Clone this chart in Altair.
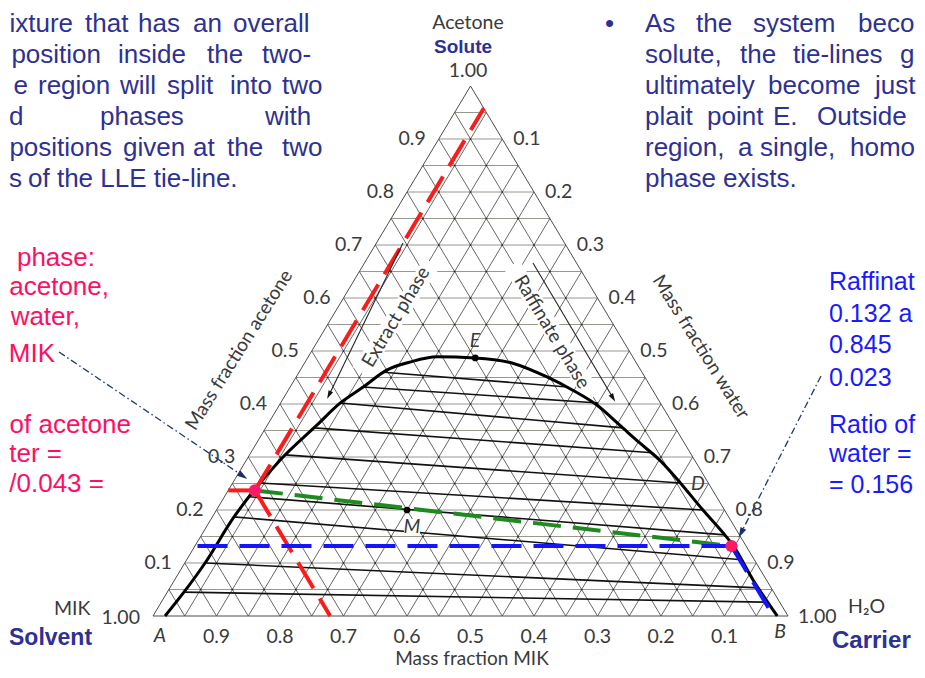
import altair as alt
import pandas as pd

# ------------------------------------------------------------------ data
# Binodal (solubility) curve, mass fractions
binodal_acetone = [0.000, 0.043, 0.100, 0.185, 0.240, 0.294, 0.360, 0.402, 0.432, 0.464,
                   0.479, 0.489, 0.487, 0.477, 0.451, 0.426, 0.398, 0.360, 0.326, 0.294,
                   0.251, 0.200, 0.158, 0.134, 0.068, 0.000]
binodal_water = [0.019, 0.026, 0.032, 0.034, 0.041, 0.053, 0.078, 0.094, 0.115, 0.136,
                 0.165, 0.203, 0.264, 0.328, 0.395, 0.448, 0.500, 0.555, 0.604, 0.651,
                 0.705, 0.766, 0.818, 0.846, 0.911, 0.983]

# Tie-lines: extract (MIK-rich) end and raffinate (water-rich) end
tie_extract_acetone = [0.460, 0.432, 0.402, 0.355, 0.304, 0.251, 0.225, 0.187, 0.100, 0.045]
tie_extract_water = [0.133, 0.115, 0.094, 0.076, 0.056, 0.043, 0.039, 0.034, 0.032, 0.026]
tie_raffinate_acetone = [0.432, 0.402, 0.355, 0.308, 0.251, 0.200, 0.153, 0.106, 0.053, 0.026]
tie_raffinate_water = [0.437, 0.500, 0.563, 0.632, 0.705, 0.766, 0.824, 0.874, 0.927, 0.955]

extract_acetone, extract_water = 0.237, 0.042
raffinate_acetone, raffinate_water = 0.132, 0.845
plait_acetone, plait_water = 0.487, 0.264
mixture_acetone, mixture_water = 0.200, 0.300

grid_levels = [0.00, 0.05, 0.10, 0.15, 0.20, 0.25, 0.30, 0.35, 0.40, 0.45, 0.50,
               0.55, 0.60, 0.65, 0.70, 0.75, 0.80, 0.85, 0.90, 0.95, 1.00]
tick_values = [0.1, 0.2, 0.3, 0.4, 0.5, 0.6, 0.7, 0.8, 0.9]
tick_labels = ["0.1", "0.2", "0.3", "0.4", "0.5", "0.6", "0.7", "0.8", "0.9"]
corner_label = "1.00"

# ------------------------------------------------------------------ layout
W, H = 909, 662
MARGIN = 8
BASE_LEFT_PX, BASE_Y_PX = 153, 616     # vertex A on the page
SIDE_PX, HEIGHT_PX = 635, 530          # triangle base and height in px
X0 = BASE_LEFT_PX - MARGIN
Y0 = BASE_Y_PX - MARGIN


def tern(a, w):
    return (w + a / 2.0, a)


def at_page(px, py):
    return ((px - MARGIN - X0) / SIDE_PX, (Y0 - (py - MARGIN)) / HEIGHT_PX)


def nudge(pt, dx, dy):
    return (pt[0] + dx / SIDE_PX, pt[1] - dy / HEIGHT_PX)


XS = alt.Scale(domain=[-X0 / SIDE_PX, (W - X0) / SIDE_PX], nice=False, zero=False)
YS = alt.Scale(domain=[(Y0 - H) / HEIGHT_PX, Y0 / HEIGHT_PX], nice=False, zero=False)
ENC_X = alt.X("X:Q", scale=XS, axis=None)
ENC_Y = alt.Y("Y:Q", scale=YS, axis=None)


def seg_df(segs):
    rows = []
    for i, pts in enumerate(segs):
        for k, (X, Y) in enumerate(pts):
            rows.append({"seg": i, "k": k, "X": X, "Y": Y})
    return pd.DataFrame(rows)


def lines(segs, **mk):
    return alt.Chart(seg_df(segs)).mark_line(**mk).encode(
        x=ENC_X, y=ENC_Y, detail="seg:N", order="k:Q")


def points(pts, **mk):
    df = pd.DataFrame([{"X": p[0], "Y": p[1]} for p in pts])
    return alt.Chart(df).mark_point(**mk).encode(x=ENC_X, y=ENC_Y)


def text_layer(rows, **mk):
    df = pd.DataFrame([{"t": t, "X": p[0], "Y": p[1]} for t, p in rows])
    opts = dict(baseline="alphabetic")
    opts.update(mk)
    return alt.Chart(df).mark_text(**opts).encode(x=ENC_X, y=ENC_Y, text="t:N")


ARROW = "M0,-1L0.6,1L-0.6,1Z"


def heads(rows, color, size):
    df = pd.DataFrame([{"X": p[0], "Y": p[1], "ang": a} for p, a in rows])
    return alt.Chart(df).mark_point(shape=ARROW, filled=True, size=size, color=color,
                                    opacity=1, strokeWidth=0).encode(
        x=ENC_X, y=ENC_Y, angle=alt.Angle("ang:Q", scale=None))


layers = []

# ---- grid
inner = [l for l in grid_levels if 0 < l < 1]
h_segs = [[tern(l, 0), tern(l, 1 - l)] for l in inner]
w_segs = [[tern(0, l), tern(1 - l, l)] for l in inner]
m_segs = [[tern(0, 1 - l), tern(1 - l, 0)] for l in inner]
layers.append(lines(h_segs, color="#8f8b7e", strokeWidth=0.9))
layers.append(lines(w_segs + m_segs, color="#4d4d4d", strokeWidth=0.85))
layers.append(lines([[tern(0, 0), tern(0, 1), tern(1, 0), tern(0, 0)]], color="#4d4d4d", strokeWidth=1.0))
dots = [tern(a, w) for a in grid_levels for w in grid_levels if a > 0 and w > 0 and a + w < 0.999]
layers.append(points(dots, filled=True, size=3, color="#222222", opacity=1, strokeWidth=0))

# ---- white knock-outs behind phase labels
layers.append(lines([[at_page(360, 372), at_page(432, 263)], [at_page(512, 265), at_page(593, 397)]],
                    color="white", strokeWidth=18))

# ---- tie-lines and binodal
tie_segs = [[tern(ea, ew), tern(ra, rw)] for ea, ew, ra, rw in
            zip(tie_extract_acetone, tie_extract_water, tie_raffinate_acetone, tie_raffinate_water)]
layers.append(lines(tie_segs, color="#111111", strokeWidth=1.6))
bdf = pd.DataFrame([{"X": tern(a, w)[0], "Y": a} for a, w in zip(binodal_acetone, binodal_water)])
layers.append(alt.Chart(bdf).mark_line(color="#000000", strokeWidth=3, interpolate="monotone")
              .encode(x=ENC_X, y=ENC_Y))

# knock-out behind M
layers.append(points([at_page(412, 527)], shape="square", filled=True, size=260, color="white",
                     opacity=1, strokeWidth=0))

# ---- construction lines
E_pt = tern(extract_acetone, extract_water)
R_pt = tern(raffinate_acetone, raffinate_water)
layers.append(lines([[E_pt, tern(extract_acetone, 0)],
                     [E_pt, tern(1 - extract_water, extract_water)],
                     [E_pt, tern(0, extract_acetone + extract_water)]],
                    color="#ff1a1a", strokeWidth=4, strokeDash=[30, 12]))
layers.append(lines([[E_pt, R_pt]], color="#1f8a1f", strokeWidth=4, strokeDash=[28, 12]))
layers.append(lines([[R_pt, tern(raffinate_acetone, 0)],
                     [R_pt, tern(0, raffinate_acetone + raffinate_water)]],
                    color="#1414ff", strokeWidth=4, strokeDash=[30, 12]))

# ---- arrows
layers.append(lines([[at_page(59, 352), at_page(243, 476)], [at_page(821, 376), at_page(741, 533)]],
                    color="#203a78", strokeWidth=1.3, strokeDash=[7, 3, 1.5, 3]))
layers.append(heads([(at_page(243, 476), 124), (at_page(741, 533), 207)], "#1a2f6e", 110))
layers.append(lines([[at_page(403, 243), at_page(329, 395)], [at_page(533, 263), at_page(613, 398)]],
                    color="#222222", strokeWidth=1.1))
layers.append(heads([(at_page(329, 395), 206), (at_page(613, 398), 149)], "#111111", 70))

# ---- special points
layers.append(points([tern(plait_acetone, plait_water), tern(mixture_acetone, mixture_water)],
                     filled=True, size=45, color="#000000", opacity=1, strokeWidth=0))
layers.append(points([E_pt, R_pt], filled=True, size=150, color="#ff1a66", opacity=1, strokeWidth=0))

# ---- diagram text
GRAY = "#3a3a3a"
DF = "Lato"
FS = 19.5
left_ticks = [(lab, nudge(tern(v, 0), -13, 0)) for v, lab in zip(tick_values, tick_labels)]
right_ticks = [(lab, nudge(tern(1 - v, v), 11, 0)) for v, lab in zip(tick_values, tick_labels)]
bottom_ticks = [(lab, nudge(tern(0, 1 - v), 0, 21)) for v, lab in zip(tick_values, tick_labels)]
layers.append(text_layer(left_ticks, align="right", baseline="middle", font=DF, fontSize=FS, color=GRAY))
layers.append(text_layer(right_ticks, align="left", baseline="middle", font=DF, fontSize=FS, color=GRAY))
layers.append(text_layer(bottom_ticks, align="center", baseline="middle", font=DF, fontSize=FS, color=GRAY))
layers.append(text_layer([(corner_label, at_page(140, 624))], align="right", font=DF, fontSize=FS, color=GRAY))
layers.append(text_layer([(corner_label, at_page(798, 623)), ("MIK", at_page(54, 615)),
                          ("H\u2082O", at_page(848, 613))], align="left", font=DF, fontSize=FS, color=GRAY))
layers.append(text_layer([(corner_label, at_page(468, 77)), ("Acetone", at_page(468, 29))],
                         align="center", font=DF, fontSize=FS, color=GRAY))
layers.append(text_layer([("Mass fraction MIK", at_page(472, 665))],
                         align="center", font=DF, fontSize=19, color=GRAY))
layers.append(text_layer([("A", at_page(160, 642)), ("B", at_page(780, 638)), ("D", at_page(698, 490)),
                          ("E", at_page(475, 347)), ("M", at_page(412, 533))],
                         align="center", font=DF, fontSize=FS, fontStyle="italic", color=GRAY))
layers.append(text_layer([("Mass fraction acetone", at_page(239, 350))], align="center", baseline="middle",
                         font=DF, fontSize=19, color=GRAY, angle=302))
layers.append(text_layer([("Mass fraction water", at_page(701, 347))], align="center", baseline="middle",
                         font=DF, fontSize=19, color=GRAY, angle=58))
layers.append(text_layer([("Extract phase", at_page(396, 317))], align="center", baseline="middle",
                         font=DF, fontSize=19, color=GRAY, angle=301))
layers.append(text_layer([("Raffinate phase", at_page(552, 332))], align="center", baseline="middle",
                         font=DF, fontSize=19, color=GRAY, angle=59))

# ---- slide text (the slide is cropped: only the visible parts of the words are kept)
PARA = "#2e3192"
PINK = "#ff0f63"
BLUE = "#1a1aff"
SF = "Liberation Sans"
L1, L2, L3, L4, L5, L6 = 32, 63, 94, 125, 156, 187
para_right = [("ixture", 73, L1), ("position", 101, L2), ("e", 28, L3), ("d", 23.5, L4),
              ("positions", 112, L5), ("s", 22, L6)]
para_left = [("that", 85, L1), ("has", 138, L1), ("an", 193, L1), ("overall", 233, L1),
             ("inside", 118, L2), ("the", 207, L2), ("two-", 262, L2),
             ("region", 38, L3), ("will", 120, L3), ("split", 167, L3), ("into", 230, L3), ("two", 282, L3),
             ("phases", 100, L4), ("with", 265, L4),
             ("given", 123, L5), ("at", 193, L5), ("the", 227, L5), ("two", 282, L5),
             ("of the LLE tie-line.", 28, L6),
             ("\u2022", 605, L1),
             ("As", 645, L1), ("the", 696, L1), ("system", 753, L1), ("beco", 858, L1),
             ("solute,", 645, L2), ("the", 740, L2), ("tie-lines", 793, L2), ("g", 900, L2),
             ("ultimately", 645, L3), ("become", 768, L3), ("just", 875, L3),
             ("plait", 645, L4), ("point", 707, L4), ("E.", 773, L4), ("Outside", 817, L4),
             ("region,", 645, L5), ("a", 738, L5), ("single,", 760, L5), ("homo", 850, L5),
             ("phase exists.", 645, L6)]
layers.append(text_layer([(t, at_page(x, y)) for t, x, y in para_right], align="right", font=SF,
                         fontSize=26, color=PARA))
layers.append(text_layer([(t, at_page(x, y)) for t, x, y in para_left], align="left", font=SF,
                         fontSize=26, color=PARA))
pink_rows = [("phase:", 95, 266), ("acetone,", 109, 295), ("water,", 80, 325),
             ("MIK", 55, 362), ("of acetone", 131, 433), ("ter =", 62, 462),
             ("/0.043 =", 104, 492)]
layers.append(text_layer([(t, at_page(x, y)) for t, x, y in pink_rows], align="right", font=SF,
                         fontSize=26, color=PINK))
raff_rows = [("Raffinat", 829, 290), ("0.132 a", 829, 322), ("0.845", 829, 353),
             ("0.023", 829, 386), ("Ratio of", 829, 433), ("water =", 829, 462),
             ("= 0.156", 829, 493)]
layers.append(text_layer([(t, at_page(x, y)) for t, x, y in raff_rows], align="left", font=SF,
                         fontSize=25, color=BLUE))
layers.append(text_layer([("Solute", at_page(463, 53))], align="center", font=SF, fontSize=19,
                         fontWeight="bold", color=PARA))
layers.append(text_layer([("Solvent", at_page(9, 645))], align="left",
                         font=SF, fontSize=23, fontWeight="bold", color=PARA))
layers.append(text_layer([("Carrier", at_page(832, 648))], align="left",
                         font=SF, fontSize=24, fontWeight="bold", color=PARA))

chart = alt.layer(*layers).properties(
    width=W, height=H, autosize=alt.AutoSizeParams(type="none"), padding=0, background="white"
).configure_view(stroke=None)

chart.save("out.html", embed_options={"renderer": "svg", "actions": False})
